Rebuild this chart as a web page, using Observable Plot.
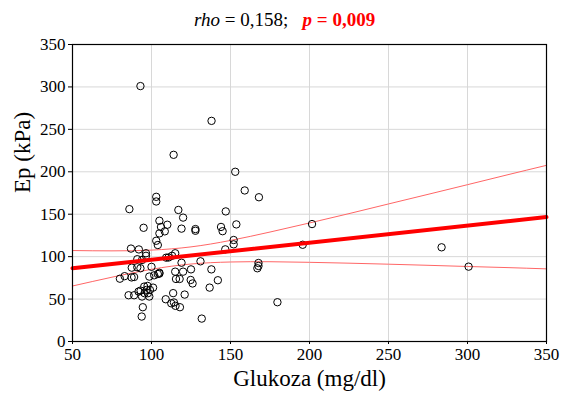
<!DOCTYPE html>
<html>
<head>
<meta charset="utf-8">
<script src="https://cdn.jsdelivr.net/npm/d3@7"></script>
<script src="https://cdn.jsdelivr.net/npm/@observablehq/plot@0.6"></script>
<style>
  body { margin: 0; background: #fff; }
  #wrap { position: relative; width: 561px; height: 399px; font-family: "Liberation Serif", "DejaVu Serif", serif; }
  #title { position: absolute; left: 194px; top: 9px; font-size: 19px; white-space: pre; color: #000; }
  #title .it { font-style: italic; }
  #title .p { color: #ff0000; font-weight: bold; }
</style>
</head>
<body>
<div id="wrap">
  <div id="chart"></div>
  <div id="title"><span class="it">rho</span> = 0,158;   <span class="p"><span class="it">p</span> = 0,009</span></div>
</div>
<script>
// Scatter data: glucose (mg/dl) and Ep (kPa)
const glukoza = [
  93, 138, 114, 153, 159, 168, 103, 103, 86, 117, 147, 120, 105, 110, 95, 106, 108.4, 105, 119, 127.8, 127.8, 144, 145, 153.7, 201.6, 195.7, 283.6, 300.7, 179.7,
  103, 104, 152, 152, 146.7, 87, 92, 96.5, 96.5, 91, 94, 115, 113, 109.3, 110.8, 131, 119, 167.7, 167.7, 167, 100, 91, 87.5, 93,
  105, 105, 104, 101.7, 120, 115, 125, 137.9, 98.6, 80, 83, 87.4, 89, 115.5, 117.8, 124.8, 126, 142, 136.8,
  95.4, 97.5, 101, 91.8, 93.1, 96.9, 99, 95.6, 97.7, 98.6, 94, 85.5, 89, 113.7, 121, 109, 112.5, 114.2, 115.2, 118, 94.5, 93.8, 131.8
];
const ep = [
  301, 260, 220, 200, 178, 170, 170.5, 165, 156, 155, 153.3, 146, 142.3, 137.6, 134, 135, 129.8, 127.4, 133, 132.5, 130.5, 135, 130, 138, 138.4, 114, 111, 88.2, 46.3,
  118.7, 113.7, 119.6, 114.5, 108.6, 109.5, 108.5, 104, 101, 97, 96, 104, 101, 98.8, 99, 94.5, 92.8, 92.5, 89, 86.3, 88, 87.5, 87, 86.3,
  81, 80, 79.5, 78, 82.3, 82.3, 85, 85, 76.5, 74, 77, 75.5, 76, 73.7, 73.7, 72.5, 68.4, 72.2, 63.5,
  64.7, 65.5, 63.5, 58.8, 60, 60.8, 60.8, 56.9, 56.9, 53, 53, 54.5, 54.5, 57, 55.3, 49.8, 45, 46, 42, 40.4, 40.4, 29.4, 27
];

// Regression line (read at its ends)
const fitX = [50, 350];
const fitY = [86.3, 146.6];

// Confidence band lines
const ciX = [50, 75, 100, 125, 150, 175, 200, 225, 250, 275, 300, 325, 350];
const ciUpper = [107.2, 106.8, 107.7, 111.5, 119.1, 129, 139.7, 150.7, 162.1, 173.4, 184.8, 196.3, 207.6];
const ciLower = [65.4, 75.8, 85.1, 91.3, 93.7, 94, 93.3, 92.3, 91.1, 89.8, 88.4, 87.1, 85.6];

// Axis ticks
const xTicks = [50, 100, 150, 200, 250, 300, 350];
const yTicks = [0, 50, 100, 150, 200, 250, 300, 350];

const serif = "Liberation Serif, DejaVu Serif, serif";
const points = glukoza.map((g, i) => ({g, e: ep[i]}));
const fit = fitX.map((x, i) => ({x, y: fitY[i]}));
const ciU = ciX.map((x, i) => ({x, y: ciUpper[i]}));
const ciL = ciX.map((x, i) => ({x, y: ciLower[i]}));

const chart = Plot.plot({
  width: 561,
  height: 399,
  marginLeft: 72,
  marginRight: 15,
  marginTop: 44,
  marginBottom: 58,
  style: {fontFamily: serif, background: "#fff", color: "#000"},
  x: {domain: [50, 350], ticks: xTicks},
  y: {domain: [0, 350], ticks: yTicks},
  marks: [
    Plot.gridX(xTicks, {stroke: "#d8d8d8", strokeOpacity: 1, strokeWidth: 1}),
    Plot.gridY(yTicks, {stroke: "#d8d8d8", strokeOpacity: 1, strokeWidth: 1}),
    Plot.axisX(xTicks, {tickSize: 3, tickPadding: 3, fontSize: 17, fontFamily: serif, label: null, stroke: "#000"}),
    Plot.axisY(yTicks, {tickSize: 4, tickPadding: 3, fontSize: 17, fontFamily: serif, label: null, stroke: "#000"}),
    Plot.line(ciU, {x: "x", y: "y", stroke: "#ff6666", strokeWidth: 1, curve: "natural"}),
    Plot.line(ciL, {x: "x", y: "y", stroke: "#ff6666", strokeWidth: 1, curve: "natural"}),
    Plot.dot(points, {x: "g", y: "e", r: 3.7, stroke: "#000", strokeWidth: 1, fill: "none"}),
    Plot.line(fit, {x: "x", y: "y", stroke: "#ff0000", strokeWidth: 4}),
    Plot.frame({stroke: "#000", strokeWidth: 1.2}),
    Plot.text(["Glukoza (mg/dl)"], {frameAnchor: "bottom", dy: 44, fontSize: 23, fill: "#000"}),
    Plot.text(["Ep (kPa)"], {frameAnchor: "left", dx: -50, rotate: -90, fontSize: 23, fill: "#000"})
  ]
});
document.getElementById("chart").appendChild(chart);
</script>
</body>
</html>
